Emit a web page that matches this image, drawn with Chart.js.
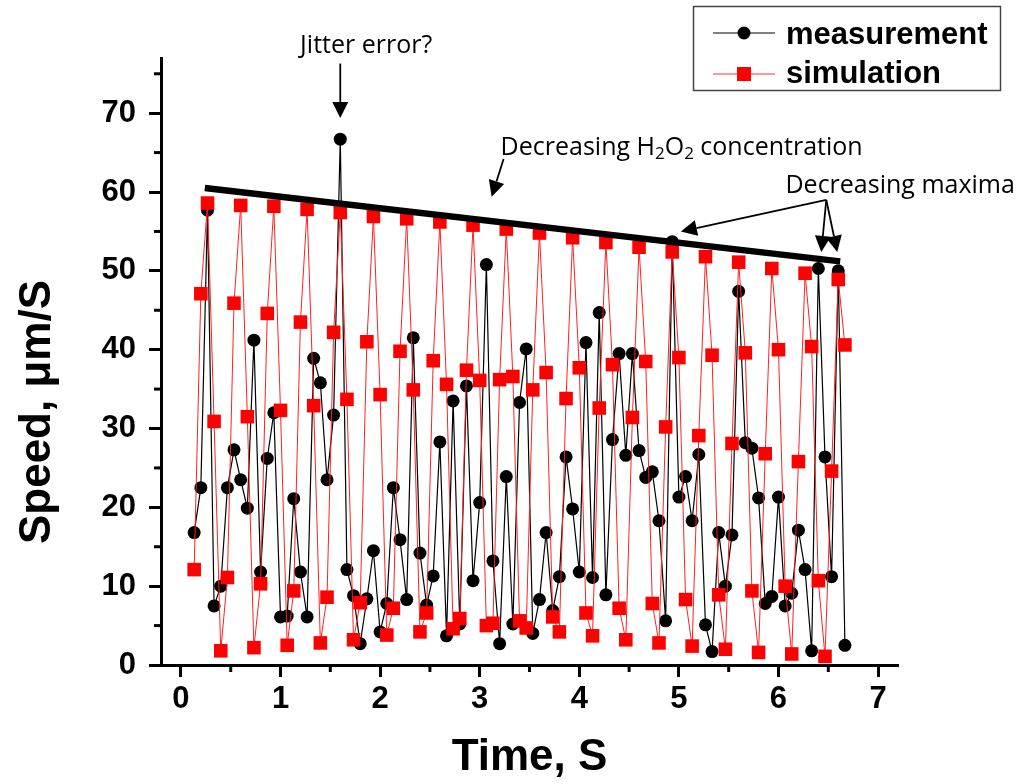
<!DOCTYPE html>
<html>
<head>
<meta charset="utf-8">
<script src="https://cdn.jsdelivr.net/npm/chart.js@4"></script>
<style>
  html, body { margin: 0; padding: 0; background: #fff; }
  canvas { display: block; }
</style>
</head>
<body>
<canvas id="chart" width="1020" height="784"></canvas>
<script>
// time axis (s), one sample every 1/15 s
const times = [
  0.133, 0.2, 0.267, 0.333, 0.4, 0.467, 0.533, 0.6, 0.667, 0.733, 0.8, 0.867, 0.933,
  1.0, 1.067, 1.133, 1.2, 1.267, 1.333, 1.4, 1.467, 1.533, 1.6, 1.667, 1.733, 1.8, 1.867, 1.933,
  2.0, 2.067, 2.133, 2.2, 2.267, 2.333, 2.4, 2.467, 2.533, 2.6, 2.667, 2.733, 2.8, 2.867, 2.933,
  3.0, 3.067, 3.133, 3.2, 3.267, 3.333, 3.4, 3.467, 3.533, 3.6, 3.667, 3.733, 3.8, 3.867, 3.933,
  4.0, 4.067, 4.133, 4.2, 4.267, 4.333, 4.4, 4.467, 4.533, 4.6, 4.667, 4.733, 4.8, 4.867, 4.933,
  5.0, 5.067, 5.133, 5.2, 5.267, 5.333, 5.4, 5.467, 5.533, 5.6, 5.667, 5.733, 5.8, 5.867, 5.933,
  6.0, 6.067, 6.133, 6.2, 6.267, 6.333, 6.4, 6.467, 6.533, 6.6, 6.667
];

const measurement = [
  16.8, 22.5, 57.7, 7.5, 10.0, 22.5, 27.3, 23.5, 19.9, 41.2, 11.8, 26.2, 32.0,
  6.1, 6.2, 21.1, 11.8, 6.1, 38.9, 35.8, 23.5, 31.7, 66.7, 12.1, 8.8, 2.7, 8.4, 14.5,
  4.2, 7.8, 22.5, 15.9, 8.3, 41.5, 14.2, 7.6, 11.3, 28.3, 3.7, 33.5, 5.2, 35.4, 10.7,
  20.6, 50.8, 13.2, 2.7, 23.9, 5.2, 33.3, 40.1, 4.0, 8.3, 16.8, 6.9, 11.2, 26.4, 19.8,
  11.8, 40.9, 11.1, 44.7, 8.9, 28.6, 39.5, 26.6, 39.5, 27.2, 23.8, 24.5, 18.3, 5.6, 53.7,
  21.3, 23.9, 18.3, 26.7, 5.1, 1.7, 16.8, 10.0, 16.5, 47.4, 28.2, 27.5, 21.2, 7.8, 8.7,
  21.3, 7.5, 9.1, 17.1, 12.1, 1.8, 50.3, 26.4, 11.2, 50.0, 2.5
];

const simulation = [
  12.1, 47.1, 58.6, 30.9, 1.8, 11.1, 45.9, 58.3, 31.5, 2.2, 10.3, 44.6, 58.2,
  32.3, 2.5, 9.4, 43.5, 57.8, 32.9, 2.8, 8.6, 42.2, 57.4, 33.7, 3.2, 7.9, 41.0, 56.9,
  34.3, 3.8, 7.2, 39.8, 56.6, 34.9, 4.2, 6.6, 38.6, 56.2, 35.6, 4.6, 5.9, 37.4, 55.8,
  36.1, 5.0, 5.3, 36.2, 55.3, 36.6, 5.6, 4.7, 34.9, 54.8, 37.1, 6.1, 4.2, 33.8, 54.2,
  37.7, 6.6, 3.7, 32.6, 53.6, 38.1, 7.2, 3.2, 31.4, 53.0, 38.5, 7.8, 2.8, 30.2, 52.4,
  39.0, 8.3, 2.4, 29.1, 51.8, 39.3, 8.9, 2.0, 28.1, 51.1, 39.6, 9.4, 1.6, 26.8, 50.3,
  40.0, 10.0, 1.4, 25.8, 49.7, 40.4, 10.7, 1.1, 24.6, 48.9, 40.6
];

const xTicks = [0, 1, 2, 3, 4, 5, 6, 7];
const yTicks = [0, 10, 20, 30, 40, 50, 60, 70];
const xMinor = [0.5, 1.5, 2.5, 3.5, 4.5, 5.5, 6.5];
const yMinor = [5, 15, 25, 35, 45, 55, 65, 75];

// hand-drawn trend of the maxima, in data units
const trendLine = [[0.24, 60.5], [6.62, 51.2]];

const FONT = "'Liberation Sans', Arial, sans-serif";
const NOTE_FONT = "'Open Sans', 'Noto Sans', sans-serif";

function pairs(xs, ys) {
  return xs.map((t, i) => ({ x: t, y: ys[i] }));
}

function arrow(ctx, x1, y1, x2, y2) {
  const a = Math.atan2(y2 - y1, x2 - x1);
  const len = 16, half = 8;
  const bx = x2 - len * Math.cos(a), by = y2 - len * Math.sin(a);
  ctx.beginPath();
  ctx.moveTo(x1, y1);
  ctx.lineTo(bx, by);
  ctx.lineWidth = 1.8;
  ctx.stroke();
  ctx.beginPath();
  ctx.moveTo(x2, y2);
  ctx.lineTo(bx + half * Math.sin(a), by - half * Math.cos(a));
  ctx.lineTo(bx - half * Math.sin(a), by + half * Math.cos(a));
  ctx.closePath();
  ctx.fill();
}

const extras = {
  id: 'extras',
  afterDatasetsDraw(chart) {
    const { ctx, scales: { x, y } } = chart;
    const px = v => x.getPixelForValue(v);
    const py = v => y.getPixelForValue(v);
    ctx.save();
    ctx.strokeStyle = '#000';
    ctx.fillStyle = '#000';

    // trend line
    ctx.beginPath();
    ctx.moveTo(px(trendLine[0][0]), py(trendLine[0][1]));
    ctx.lineTo(px(trendLine[1][0]), py(trendLine[1][1]));
    ctx.lineWidth = 6.5;
    ctx.stroke();

    // jitter note
    ctx.font = '25px ' + NOTE_FONT;
    ctx.textBaseline = 'middle';
    ctx.textAlign = 'center';
    ctx.fillText('Jitter error?', px(1.86), py(78.6));
    arrow(ctx, px(1.6), py(76.3), px(1.6), py(69.4));

    // H2O2 note with subscripts
    ctx.textAlign = 'left';
    let tx = px(3.21);
    const ty = py(65.6);
    const parts = [['Decreasing H', 0], ['2', 1], ['O', 0], ['2', 1], [' concentration', 0]];
    parts.forEach(([s, sub]) => {
      ctx.font = (sub ? '17px ' : '25px ') + NOTE_FONT;
      ctx.fillText(s, tx, ty + (sub ? 6 : 0));
      tx += ctx.measureText(s).width;
    });
    arrow(ctx, px(3.24), py(64.2), px(3.12), py(59.4));

    // maxima note
    ctx.font = '25px ' + NOTE_FONT;
    ctx.fillText('Decreasing maxima', px(6.07), py(60.8));
    const ox = px(6.48), oy = py(59.0);
    arrow(ctx, ox, oy, px(5.02), py(55.0));
    arrow(ctx, ox, oy, px(6.43), py(52.4));
    arrow(ctx, ox, oy, px(6.59), py(52.4));
    ctx.restore();
  },
  afterDraw(chart) {
    const { ctx, scales: { x, y } } = chart;
    const area = chart.chartArea;
    ctx.save();
    ctx.strokeStyle = '#000';
    ctx.fillStyle = '#000';
    ctx.lineWidth = 3;

    // minor ticks
    xMinor.forEach(v => {
      const p = x.getPixelForValue(v);
      ctx.beginPath();
      ctx.moveTo(p, area.bottom);
      ctx.lineTo(p, area.bottom + 7);
      ctx.stroke();
    });
    yMinor.forEach(v => {
      const p = y.getPixelForValue(v);
      ctx.beginPath();
      ctx.moveTo(area.left, p);
      ctx.lineTo(area.left - 7, p);
      ctx.stroke();
    });

    // axis titles
    ctx.font = 'bold 44px ' + FONT;
    ctx.textAlign = 'center';
    ctx.textBaseline = 'alphabetic';
    ctx.fillText('Time, S', (area.left + area.right) / 2, 770);
    ctx.save();
    ctx.translate(50, 412);
    ctx.rotate(-Math.PI / 2);
    ctx.fillText('Speed, \u03bcm/S', 0, 0);
    ctx.restore();

    // legend box
    ctx.lineWidth = 1.5;
    ctx.strokeStyle = '#444';
    ctx.strokeRect(693.5, 6.5, 307, 84);
    ctx.lineWidth = 1.2;
    ctx.strokeStyle = '#000';
    ctx.beginPath(); ctx.moveTo(713, 33); ctx.lineTo(775, 33); ctx.stroke();
    ctx.beginPath(); ctx.arc(744, 33, 6.5, 0, Math.PI * 2); ctx.fill();
    ctx.strokeStyle = '#ff3333';
    ctx.beginPath(); ctx.moveTo(713, 74); ctx.lineTo(775, 74); ctx.stroke();
    ctx.fillStyle = '#ff0000';
    ctx.fillRect(737, 67, 14, 14);
    ctx.fillStyle = '#000';
    ctx.font = 'bold 31px ' + FONT;
    ctx.textAlign = 'left';
    ctx.fillText('measurement', 786, 44);
    ctx.fillText('simulation', 786, 83);
    ctx.restore();
  }
};

new Chart(document.getElementById('chart'), {
  type: 'line',
  data: {
    datasets: [
      {
        label: 'measurement',
        data: pairs(times, measurement),
        borderColor: '#000',
        backgroundColor: '#000',
        borderWidth: 1.2,
        pointStyle: 'circle',
        pointRadius: 6.5,
        pointBorderWidth: 0,
        order: 1,
      },
      {
        label: 'simulation',
        data: pairs(times, simulation),
        borderColor: '#ff2020',
        backgroundColor: '#ff0000',
        borderWidth: 1,
        pointStyle: 'rect',
        pointRadius: 9.6,
        pointBorderWidth: 0,
        order: 0,
      },
    ],
  },
  options: {
    responsive: false,
    animation: false,
    devicePixelRatio: 1,
    layout: { padding: { left: 0, top: 58, right: 122, bottom: 0 } },
    plugins: { legend: { display: false }, tooltip: { enabled: false } },
    elements: { line: { tension: 0 } },
    scales: {
      x: {
        type: 'linear',
        min: -0.2,
        max: 7.2,
        afterFit: s => { s.height = 119; },
        afterBuildTicks: s => { s.ticks = xTicks.map(v => ({ value: v })); },
        border: { display: true, width: 3, color: '#000' },
        grid: { drawOnChartArea: false, drawTicks: true, tickLength: 12, tickWidth: 3, tickColor: '#000' },
        ticks: { color: '#000', padding: 4, maxRotation: 0, font: { family: FONT, size: 31, weight: 'bold' } },
      },
      y: {
        type: 'linear',
        min: 0,
        max: 77,
        afterFit: s => { s.width = 161; },
        afterBuildTicks: s => { s.ticks = yTicks.map(v => ({ value: v })); },
        border: { display: true, width: 3, color: '#000' },
        grid: { drawOnChartArea: false, drawTicks: true, tickLength: 12, tickWidth: 3, tickColor: '#000' },
        ticks: { color: '#000', padding: 13, font: { family: FONT, size: 31, weight: 'bold' } },
      },
    },
  },
  plugins: [extras],
});
</script>
</body>
</html>
